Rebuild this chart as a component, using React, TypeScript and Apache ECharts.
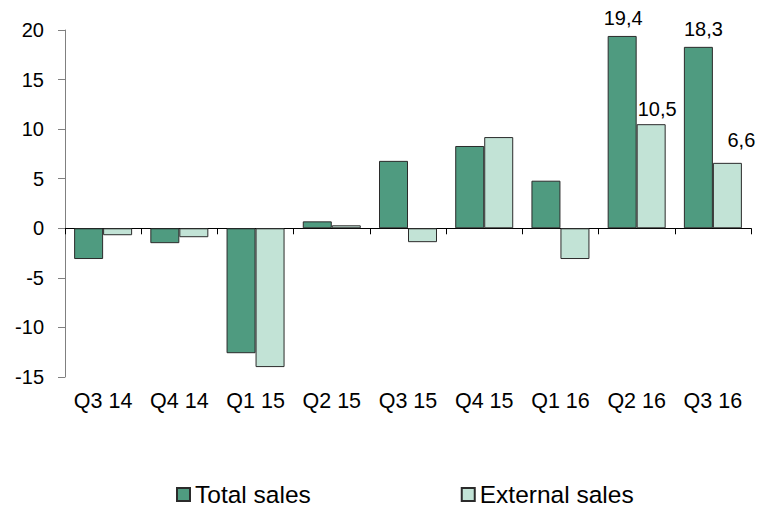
import React, { useEffect, useRef } from "react";
import * as echarts from "echarts";

const categories = ["Q3 14", "Q4 14", "Q1 15", "Q2 15", "Q3 15", "Q4 15", "Q1 16", "Q2 16", "Q3 16"];
const totalSales = [-3.1, -1.5, -12.6, 0.7, 6.8, 8.3, 4.8, 19.4, 18.3];
const externalSales = [-0.7, -0.9, -14.0, 0.3, -1.4, 9.2, -3.1, 10.5, 6.6];
const labelledIndices = [7, 8];
const yTicks = { min: -15, max: 20, interval: 5 };

const FONT = 'Arial, "Liberation Sans", sans-serif';

export default function App() {
  const ref = useRef<HTMLDivElement>(null);

  useEffect(() => {
    document.body.style.margin = "0";
    if (!ref.current) return;
    const chart = echarts.init(ref.current, null, { renderer: "svg" });

    const totalOffsets: Record<number, number[]> = { 7: [1, -3], 8: [5, -3] };
    const extOffsets: Record<number, number[]> = { 7: [6, 0], 8: [14, -8] };

    const mk = (vals: number[], offsets: Record<number, number[]>) =>
      vals.map((v, i) =>
        labelledIndices.includes(i)
          ? { value: v, label: { show: true, offset: offsets[i] } }
          : { value: v }
      );

    const labelCfg = {
      show: false,
      position: "top" as const,
      distance: 5,
      color: "#000",
      fontSize: 20,
      fontFamily: FONT,
      formatter: (p: any) => String(p.value).replace(".", ","),
    };

    chart.setOption({
      animation: false,
      textStyle: { fontFamily: FONT },
      grid: { left: 65, right: 8, top: 30, bottom: 131, containLabel: false },
      legend: {
        left: 176,
        top: 482,
        padding: 0,
        itemWidth: 13,
        itemHeight: 13,
        itemGap: 150,
        icon: "rect",
        textStyle: { fontSize: 24.5, color: "#000", fontFamily: FONT },
        data: ["Total sales", "External sales"],
      },
      xAxis: [
        {
          type: "category",
          data: categories,
          position: "bottom",
          axisLine: { show: false, onZero: false },
          axisTick: { show: false },
          axisLabel: { color: "#000", fontSize: 21.5, fontFamily: FONT, margin: 13, interval: 0 },
          splitLine: { show: false },
        },
        {
          type: "category",
          data: categories,
          position: "bottom",
          axisLine: { show: true, onZero: true, lineStyle: { color: "#000", width: 1 } },
          axisTick: { show: true, inside: false, length: 6, lineStyle: { color: "#000" } },
          axisLabel: { show: false },
          splitLine: { show: false },
        },
      ],
      yAxis: {
        type: "value",
        min: yTicks.min,
        max: yTicks.max,
        interval: yTicks.interval,
        axisLine: { show: true, lineStyle: { color: "#808080", width: 1 } },
        axisTick: { show: true, length: 7, lineStyle: { color: "#808080" } },
        axisLabel: { color: "#000", fontSize: 20, fontFamily: FONT, margin: 21 },
        splitLine: { show: false },
      },
      series: [
        {
          name: "Total sales",
          type: "bar",
          xAxisIndex: 0,
          data: mk(totalSales, totalOffsets),
          barWidth: 29,
          barGap: "0%",
          itemStyle: { color: "#4f9b80", borderColor: "#2b2b2b", borderWidth: 1 },
          label: labelCfg,
        },
        {
          name: "External sales",
          type: "bar",
          xAxisIndex: 0,
          data: mk(externalSales, extOffsets),
          barWidth: 29,
          barGap: "0%",
          itemStyle: { color: "#c2e3d6", borderColor: "#2b2b2b", borderWidth: 1 },
          label: labelCfg,
        },
      ],
    });

    return () => chart.dispose();
  }, []);

  return <div ref={ref} style={{ width: 759, height: 508 }} />;
}
